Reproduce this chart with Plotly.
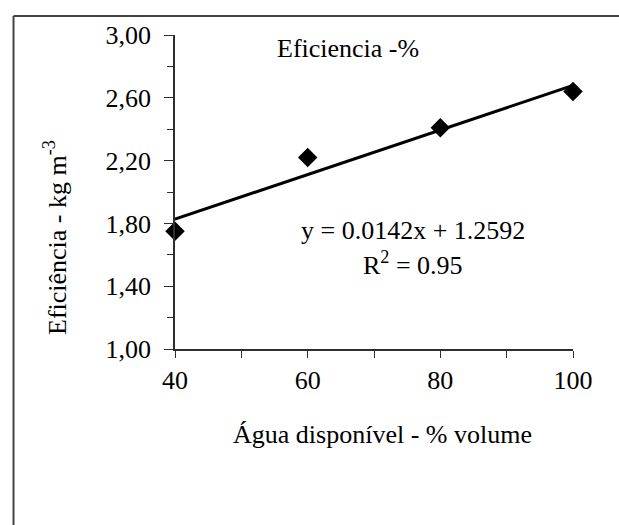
import plotly.graph_objects as go

# Measured water-use efficiency against available water
agua_disponivel = [40, 60, 80, 100]
eficiencia = [1.75, 2.22, 2.41, 2.64]

# Linear fit reported on the chart
slope = 0.0142
intercept = 1.2592
r_squared = 0.95

x_ticks = [40, 60, 80, 100]
x_minor = [50, 70, 90]
y_ticks = [1.0, 1.4, 1.8, 2.2, 2.6, 3.0]
y_tick_labels = ["1,00", "1,40", "1,80", "2,20", "2,60", "3,00"]
y_minor = [1.2, 1.6, 2.0, 2.4, 2.8]

W, H = 619, 525
L, R, T, B = 175, 46, 35, 176
PW, PH = W - L - R, H - T - B


def px(x):
    return (x - L) / PW


def py(y):
    return (H - B - y) / PH


FONT = "Liberation Serif"
INK = "#000000"
AXIS = "#2e2e2e"

fit_x = [agua_disponivel[0], agua_disponivel[-1]]
fit_y = [slope * x + intercept for x in fit_x]

fig = go.Figure()
fig.add_trace(go.Scatter(
    x=fit_x, y=fit_y, mode="lines",
    line=dict(color="black", width=3),
    cliponaxis=False, showlegend=False, hoverinfo="skip",
))
fig.add_trace(go.Scatter(
    x=agua_disponivel, y=eficiencia, mode="markers",
    marker=dict(symbol="diamond", size=15, color="black"),
    cliponaxis=False, showlegend=False,
))

fig.update_xaxes(
    range=[40, 100], tickvals=x_ticks, ticks="outside", ticklen=7,
    tickcolor=AXIS, tickwidth=1.3, showline=True, linecolor=AXIS,
    linewidth=1.6, showgrid=False, zeroline=False,
    tickfont=dict(family=FONT, size=26, color=INK),
    ticklabelstandoff=0,
    minor=dict(tickvals=x_minor, ticks="outside", ticklen=7,
               tickcolor=AXIS, tickwidth=1.3, showgrid=False),
)
fig.update_yaxes(
    range=[1, 3], tickvals=y_ticks, ticktext=y_tick_labels,
    ticks="outside", ticklen=9, tickcolor=AXIS, tickwidth=1.3,
    showline=True, linecolor=AXIS, linewidth=1.6, showgrid=False,
    zeroline=False, tickfont=dict(family=FONT, size=26, color=INK),
    ticklabelstandoff=8,
    minor=dict(tickvals=y_minor, ticks="outside", ticklen=6,
               tickcolor=AXIS, tickwidth=1.3, showgrid=False),
)

text_font = dict(family=FONT, size=26, color=INK)
annotations = [
    dict(text="Eficiencia -%", x=px(348), y=py(48)),
    dict(text=f"y = {slope}x + {intercept}", x=px(413), y=py(230)),
    dict(text=f"R<sup>2</sup> = {r_squared}", x=px(413), y=py(263)),
    dict(text="Água disponível - % volume", x=px(382), y=py(434)),
    dict(text="Eficiência - kg m<sup>-3</sup>", x=px(55), y=py(238),
         textangle=-90),
]
for a in annotations:
    fig.add_annotation(xref="paper", yref="paper", xanchor="center",
                       yanchor="middle", showarrow=False, font=text_font, **a)

# Outer chart frame (left and top edges)
fig.add_shape(type="line", xref="paper", yref="paper",
              x0=px(13.5), x1=px(13.5), y0=py(16), y1=py(540),
              line=dict(color="#444444", width=2))
fig.add_shape(type="line", xref="paper", yref="paper",
              x0=px(13.5), x1=px(640), y0=py(16), y1=py(16),
              line=dict(color="#444444", width=2))

fig.update_layout(
    width=W, height=H, autosize=False,
    margin=dict(l=L, r=R, t=T, b=B),
    paper_bgcolor="white", plot_bgcolor="white",
    showlegend=False,
)

fig.write_html("out.html")
